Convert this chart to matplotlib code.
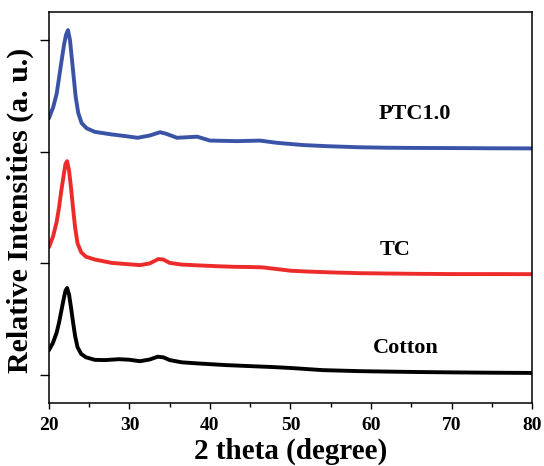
import matplotlib
matplotlib.use("Agg")
import matplotlib.pyplot as plt
from matplotlib.ticker import MultipleLocator

plt.rcParams['font.family'] = ['Liberation Serif', 'DejaVu Serif']
plt.rcParams['font.weight'] = 'bold'

# values (2 theta, stacked relative intensity)
cotton_x = [20.0, 20.5, 20.95, 21.25, 21.55, 21.85, 22.05, 22.25, 22.5, 22.75, 23.0, 23.25,
            23.55, 24.0, 24.6, 25.7, 27.0, 28.7, 30.0, 31.3, 32.5, 33.5, 34.2, 35.0, 36.5,
            38.5, 42.0, 45.3, 48.0, 50.3, 54.0, 58.6, 62.0, 66.0, 70.0, 75.0, 80.0]
cotton_y = [0.224, 0.29, 0.38, 0.47, 0.58, 0.69, 0.755, 0.78, 0.72, 0.60, 0.47, 0.35,
            0.25, 0.19, 0.16, 0.137, 0.135, 0.143, 0.138, 0.125, 0.14, 0.165, 0.16, 0.135, 0.115,
            0.105, 0.09, 0.08, 0.072, 0.063, 0.045, 0.036, 0.032, 0.028, 0.025, 0.022, 0.02]

tc_x = [20.0, 20.5, 20.95, 21.25, 21.55, 21.85, 22.05, 22.25, 22.5, 22.75, 23.0, 23.25,
        23.55, 24.0, 24.6, 25.7, 27.8, 29.5, 31.3, 32.5, 33.6, 34.2, 35.0, 36.5, 38.5,
        41.0, 43.0, 45.0, 46.5, 48.3, 50.0, 52.0, 55.0, 58.6, 62.0, 66.0, 70.0, 75.0, 80.0]
tc_y = [1.146, 1.24, 1.37, 1.50, 1.66, 1.80, 1.89, 1.916, 1.83, 1.67, 1.49, 1.32,
        1.18, 1.10, 1.06, 1.035, 1.005, 0.995, 0.985, 1.0, 1.04, 1.035, 1.005, 0.99, 0.983,
        0.975, 0.97, 0.968, 0.965, 0.95, 0.935, 0.928, 0.92, 0.913, 0.91, 0.907, 0.905, 0.905, 0.904]

ptc_x = [20.0, 20.53, 20.96, 21.24, 21.58, 21.86, 22.11, 22.36, 22.61, 22.82, 23.07, 23.32,
         23.64, 24.06, 24.68, 25.7, 27.8, 29.5, 31.0, 32.5, 33.8, 34.6, 35.9, 37.2, 38.4,
         40.0, 43.35, 46.2, 48.3, 51.55, 54.5, 58.6, 62.0, 66.0, 70.0, 75.0, 80.0]
ptc_y = [2.30, 2.40, 2.52, 2.656, 2.82, 2.954, 3.044, 3.089, 3.0, 2.85, 2.67, 2.49,
         2.346, 2.256, 2.21, 2.178, 2.155, 2.14, 2.125, 2.145, 2.175, 2.16, 2.125, 2.13, 2.135,
         2.10, 2.095, 2.10, 2.08, 2.06, 2.05, 2.04, 2.036, 2.034, 2.033, 2.031, 2.03]

labels = ['Cotton', 'TC', 'PTC1.0']
label_x = [64.3, 63.0, 65.5]
label_y = [0.24, 1.12, 2.34]
colors = ['black', '#ee2b2b', '#3a53a6']

fig = plt.figure(figsize=(5.44, 4.66), dpi=100)
ax = fig.add_axes([0.090, 0.135, 0.888, 0.839])

for xs, ys, c in zip([cotton_x, tc_x, ptc_x], [cotton_y, tc_y, ptc_y], colors):
    ax.plot(xs, ys, color=c, lw=2.8, solid_joinstyle='round', solid_capstyle='round')

for name, tx, ty in zip(labels, label_x, label_y):
    ax.text(tx, ty, name, ha='center', va='center', fontsize=16, fontweight='bold')

ax.set_xlim(20, 80)
ax.set_ylim(-0.25, 3.25)
ax.xaxis.set_major_locator(MultipleLocator(10))
ax.xaxis.set_minor_locator(MultipleLocator(5))
ax.set_yticks([0, 1, 2, 3])
ax.set_yticklabels([])
ax.tick_params(axis='x', which='major', direction='out', length=4, width=1, labelsize=14, pad=6)
ax.tick_params(axis='x', which='minor', direction='out', length=3, width=1)
ax.tick_params(axis='y', which='major', direction='out', length=6.5, width=1)
for lab in ax.get_xticklabels():
    lab.set_fontweight('bold')
for sp in ax.spines.values():
    sp.set_linewidth(1.1)

ax.set_xlabel('2 theta (degree)', fontsize=21, fontweight='bold', labelpad=3)
ax.set_ylabel('Relative Intensities (a. u.)', fontsize=21.5, fontweight='bold')
ax.yaxis.set_label_coords(-0.030, 0.494)

fig.savefig('out.png', dpi=100)
